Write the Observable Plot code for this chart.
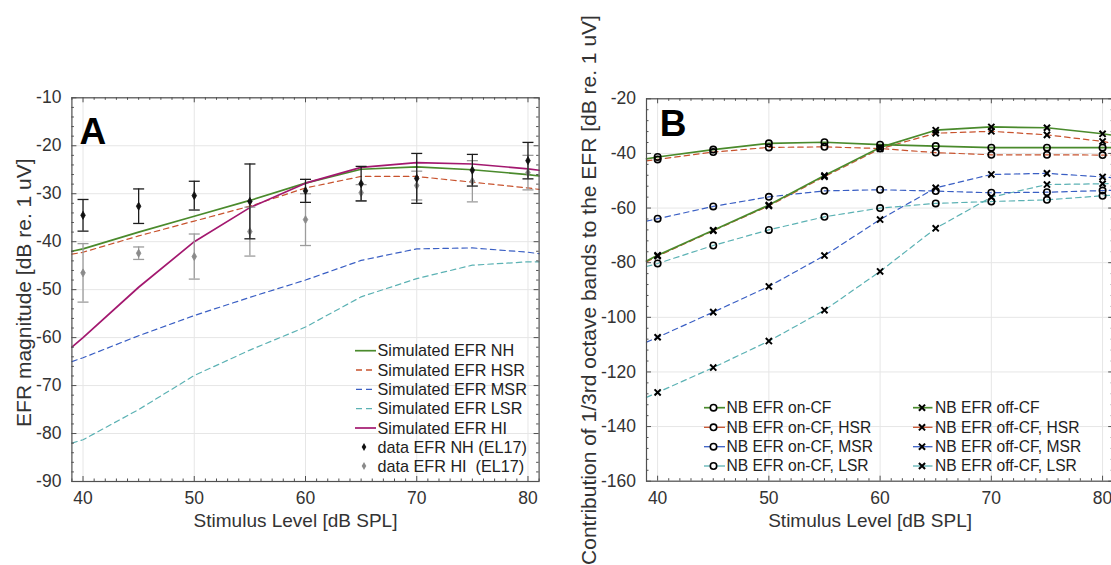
<!DOCTYPE html>
<html><head><meta charset="utf-8">
<script src="https://cdn.jsdelivr.net/npm/d3@7"></script>
<script src="https://cdn.jsdelivr.net/npm/@observablehq/plot@0.6"></script>
<style>
body{margin:0;background:#fff;}
#wrap{position:relative;width:1111px;height:565px;overflow:hidden;background:#fff;font-family:"Liberation Sans",Arial,Helvetica,sans-serif;}
.panel{position:absolute;top:0;}
#overlay{position:absolute;left:0;top:0;pointer-events:none;}
#overlay text{white-space:pre;}
</style></head><body><div id="wrap"></div>
<script>
// ---------- Data ----------
const levels = [40, 45, 50, 55, 60, 65, 70, 75, 80];            // measured levels (markers)
const lineLevels = [39, 40, 45, 50, 55, 60, 65, 70, 75, 80, 81]; // line vertices incl. frame edges
const xTicks = [40, 50, 60, 70, 80];
const yTicksA = [-90, -80, -70, -60, -50, -40, -30, -20, -10];
const yTicksB = [-160, -140, -120, -100, -80, -60, -40, -20];

// Panel A: simulated EFR magnitudes
const simNH  = [-42.0, -41.5, -38.0, -34.7, -31.4, -27.8, -24.9, -24.4, -25.0, -26.0, -26.3];
const simHSR = [-42.6, -42.2, -38.8, -35.7, -32.6, -28.8, -26.4, -26.4, -27.6, -28.8, -29.1];
const simMSR = [-65.0, -64.2, -59.6, -55.4, -51.6, -48.0, -43.9, -41.5, -41.3, -42.2, -42.5];
const simLSR = [-82.0, -81.3, -75.0, -67.9, -62.6, -57.8, -51.5, -47.7, -44.9, -44.2, -44.2];
const simHI  = [-62.0, -60.0, -49.5, -40.0, -32.9, -27.8, -24.5, -23.5, -23.8, -24.8, -25.1];
// Panel A: measured data (EL17), mean and error half-width
const dataNH = [-34.5, -32.6, -30.4, -31.6, -29.4, -27.9, -26.8, -25.1, -23.1];
const errNH  = [3.3, 3.6, 3.0, 7.8, 2.4, 3.6, 5.2, 3.3, 3.8];
const dataHI = [-46.5, -42.4, -43.1, -37.9, -35.4, -29.8, -28.3, -27.4, -25.6];
const errHI  = [6.1, 1.3, 4.7, 5.1, 5.4, 1.7, 3.0, 4.3, 3.6];

// Panel B: narrow-band contributions
const onCF     = [-42.0, -41.3, -38.6, -36.3, -35.9, -36.8, -37.3, -37.9, -37.9, -37.9, -37.9];
const onHSR    = [-42.7, -42.2, -39.5, -37.8, -37.6, -38.2, -39.7, -40.5, -40.5, -40.6, -40.6];
const onMSR    = [-64.8, -63.9, -59.4, -55.9, -53.7, -53.3, -53.8, -54.4, -54.2, -53.6, -53.5];
const onLSR    = [-81.4, -80.3, -73.7, -68.0, -63.2, -60.0, -58.3, -57.6, -57.0, -55.5, -55.3];
const offCF    = [-79.4, -77.3, -68.1, -58.9, -48.1, -37.8, -31.5, -30.3, -30.6, -32.8, -33.4];
const offHSR   = [-79.7, -77.6, -68.3, -59.2, -48.5, -38.3, -32.6, -31.9, -33.2, -35.6, -36.3];
const offMSR   = [-109.1, -107.3, -98.1, -88.7, -77.4, -64.2, -52.6, -47.7, -47.3, -48.6, -48.9];
const offLSR   = [-129.3, -127.5, -118.4, -108.7, -97.4, -83.2, -67.4, -56.0, -51.4, -51.1, -51.0];

const labelsA = ["Simulated EFR NH", "Simulated EFR HSR", "Simulated EFR MSR", "Simulated EFR LSR", "Simulated EFR HI", "data EFR NH (EL17)", "data EFR HI  (EL17)"];
const labelsBon = ["NB EFR on-CF", "NB EFR on-CF, HSR", "NB EFR on-CF, MSR", "NB EFR on-CF, LSR"];
const labelsBoff = ["NB EFR off-CF", "NB EFR off-CF, HSR", "NB EFR off-CF, MSR", "NB EFR off-CF, LSR"];

// ---------- Styles ----------
const C = {nh: "#4a8a2c", hsr: "#c8532e", msr: "#3a5fc4", lsr: "#5cb2b4", hi: "#a3186f"};
const DASH = "5.5,4";
const FRAME = "#505050", GRID = "#e6e6e6", TXT = "#333";
const FONT = "'Liberation Sans', Arial, Helvetica, sans-serif";

const capSymbol = {draw(ctx, size) { const r = Math.sqrt(size / Math.PI); ctx.moveTo(-r, 0); ctx.lineTo(r, 0); }};

function tidy(values) { return lineLevels.map((x, i) => ({x, y: values[i]})); }
function pts(values) { return lineLevels.map((x, i) => ({x, y: values[i]})).filter(d => d.x >= 40 && d.x <= 80); }

function frameMarks(W, H, yMajor, yMinor, xMinor) {
  const M = 5, m = 2.5, s = {stroke: FRAME, strokeWidth: 1};
  return [
    Plot.ruleX(xTicks, {x: d => d, insetTop: H - M, ...s}),
    Plot.ruleX(xTicks, {x: d => d, insetBottom: H - M, ...s}),
    Plot.ruleX(xMinor, {x: d => d, insetTop: H - m, ...s}),
    Plot.ruleX(xMinor, {x: d => d, insetBottom: H - m, ...s}),
    Plot.ruleY(yMajor, {y: d => d, insetRight: W - M, ...s}),
    Plot.ruleY(yMajor, {y: d => d, insetLeft: W - M, ...s}),
    Plot.ruleY(yMinor, {y: d => d, insetRight: W - m, ...s}),
    Plot.ruleY(yMinor, {y: d => d, insetLeft: W - m, ...s}),
    Plot.frame({stroke: FRAME, strokeWidth: 1.2})
  ];
}

const xMinor = d3.range(39, 82, 1).filter(v => v % 10 !== 0);

// ---------- Panel A ----------
{
  const width = 555, height = 565, mL = 71.4, mR = 16.4, mT = 97.3, mB = 84;
  const W = width - mL - mR, H = height - mT - mB;
  const yMinor = d3.range(-90, -9, 2).filter(v => v % 10 !== 0);
  const sims = [
    {v: simLSR, c: C.lsr, d: DASH, w: 1.2},
    {v: simMSR, c: C.msr, d: DASH, w: 1.2},
    {v: simHSR, c: C.hsr, d: DASH, w: 1.2},
    {v: simNH, c: C.nh, d: null, w: 1.7},
    {v: simHI, c: C.hi, d: null, w: 1.7}
  ];
  const nh = levels.map((x, i) => ({x, y: dataNH[i], lo: dataNH[i] - errNH[i], hi: dataNH[i] + errNH[i]}));
  const hi = levels.map((x, i) => ({x, y: dataHI[i], lo: dataHI[i] - errHI[i], hi: dataHI[i] + errHI[i]}));
  const err = (data, col, mcol) => [
    Plot.ruleX(data, {x: "x", y1: "lo", y2: "hi", stroke: col, strokeWidth: 1.3}),
    Plot.dot(data, {x: "x", y: "lo", symbol: capSymbol, r: 5.5, stroke: col, fill: "none", strokeWidth: 1.3}),
    Plot.dot(data, {x: "x", y: "hi", symbol: capSymbol, r: 5.5, stroke: col, fill: "none", strokeWidth: 1.3}),
    Plot.dot(data, {x: "x", y: "y", symbol: "diamond", r: 2.4, fill: mcol, stroke: mcol, strokeWidth: 0.8})
  ];
  const svg = Plot.plot({
    width, height, marginLeft: mL, marginRight: mR, marginTop: mT, marginBottom: mB,
    style: {fontFamily: FONT, color: TXT, background: "transparent", overflow: "visible"},
    x: {domain: [39, 81], axis: null},
    y: {domain: [-90, -10], axis: null},
    marks: [
      Plot.gridX(xTicks, {stroke: GRID, strokeOpacity: 1, strokeWidth: 1}),
      Plot.gridY(yTicksA, {stroke: GRID, strokeOpacity: 1, strokeWidth: 1}),
      ...sims.map(s => Plot.line(tidy(s.v), {x: "x", y: "y", stroke: s.c, strokeWidth: s.w, strokeDasharray: s.d})),
      ...err(hi, "#9c9c9c", "#8a8a8a"),
      ...err(nh, "#1c1c1c", "#111"),
      ...frameMarks(W, H, yTicksA, yMinor, xMinor),
      Plot.axisX({ticks: xTicks, tickSize: 0, tickPadding: 10, fontSize: 17.5, label: null, fill: TXT, tickFormat: d => String(d)}),
      Plot.axisY({ticks: yTicksA, tickSize: 0, tickPadding: 10.5, fontSize: 17.5, label: null, fill: TXT, tickFormat: d => String(d)}),
      Plot.text(["Stimulus Level [dB SPL]"], {frameAnchor: "bottom", dx: -10, dy: 39, textAnchor: "middle", lineAnchor: "middle", fontSize: 19, fill: TXT}),
      Plot.text(["EFR magnitude [dB re. 1 uV]"], {frameAnchor: "left", dx: -47.7, dy: 3, rotate: -90, textAnchor: "middle", lineAnchor: "middle", fontSize: 21, fill: TXT}),
      Plot.text(["A"], {frameAnchor: "top-left", dx: 7.6, dy: 19.5, textAnchor: "start", lineAnchor: "top", fontSize: 37, fontWeight: "bold", fill: "#000"})
    ]
  });
  svg.classList.add("panel");
  svg.style.left = "0px";
  document.getElementById("wrap").appendChild(svg);
}

// ---------- Panel B ----------
{
  const width = 565, height = 565, mL = 91, mR = 6.8, mT = 98.3, mB = 84.3;
  const W = width - mL - mR, H = height - mT - mB;
  const yMinor = d3.range(-160, -19, 4).filter(v => v % 20 !== 0);
  const sers = [
    {v: onLSR, c: C.lsr, d: DASH, w: 1.2, sym: "circle"},
    {v: offLSR, c: C.lsr, d: DASH, w: 1.2, sym: "times"},
    {v: onMSR, c: C.msr, d: DASH, w: 1.2, sym: "circle"},
    {v: offMSR, c: C.msr, d: DASH, w: 1.2, sym: "times"},
    {v: onHSR, c: C.hsr, d: DASH, w: 1.2, sym: "circle"},
    {v: offHSR, c: C.hsr, d: DASH, w: 1.2, sym: "times"},
    {v: onCF, c: C.nh, d: null, w: 1.7, sym: "circle"},
    {v: offCF, c: C.nh, d: null, w: 1.7, sym: "times"}
  ];
  const svg = Plot.plot({
    width, height, marginLeft: mL, marginRight: mR, marginTop: mT, marginBottom: mB,
    style: {fontFamily: FONT, color: TXT, background: "transparent", overflow: "visible"},
    x: {domain: [39, 81], axis: null},
    y: {domain: [-160, -20], axis: null},
    marks: [
      Plot.gridX(xTicks, {stroke: GRID, strokeOpacity: 1, strokeWidth: 1}),
      Plot.gridY(yTicksB, {stroke: GRID, strokeOpacity: 1, strokeWidth: 1}),
      ...sers.map(s => Plot.line(tidy(s.v), {x: "x", y: "y", stroke: s.c, strokeWidth: s.w, strokeDasharray: s.d})),
      ...sers.map(s => s.sym === "circle"
        ? Plot.dot(pts(s.v), {x: "x", y: "y", r: 3.2, stroke: "#000", fill: "none", strokeWidth: 1.6})
        : Plot.dot(pts(s.v), {x: "x", y: "y", symbol: "times", r: 2.9, stroke: "#000", strokeWidth: 2})),
      ...frameMarks(W, H, yTicksB, yMinor, xMinor),
      Plot.axisX({ticks: xTicks, tickSize: 0, tickPadding: 10, fontSize: 17.5, label: null, fill: TXT, tickFormat: d => String(d)}),
      Plot.axisY({ticks: yTicksB, tickSize: 0, tickPadding: 10.5, fontSize: 17.5, label: null, fill: TXT, tickFormat: d => String(d)}),
      Plot.text(["Stimulus Level [dB SPL]"], {frameAnchor: "bottom", dx: -10, dy: 39.3, textAnchor: "middle", lineAnchor: "middle", fontSize: 19, fill: TXT}),
      Plot.text(["Contribution of 1/3rd octave bands to the EFR [dB re. 1 uV]"], {frameAnchor: "left", dx: -57.7, dy: 0, rotate: -90, textAnchor: "middle", lineAnchor: "middle", fontSize: 21, fill: TXT}),
      Plot.text(["B"], {frameAnchor: "top-left", dx: 13.3, dy: 10.7, textAnchor: "start", lineAnchor: "top", fontSize: 37, fontWeight: "bold", fill: "#000"})
    ]
  });
  svg.classList.add("panel");
  svg.style.left = "555px";
  document.getElementById("wrap").appendChild(svg);
}

// ---------- Legends (overlay) ----------
{
  const ov = d3.select("#wrap").append("svg").attr("id", "overlay").attr("width", 1111).attr("height", 565)
    .style("font-family", FONT);
  // Legend A
  const rowsA = [350.7, 370, 389.3, 408.7, 428, 447, 466];
  const styA = [
    {c: C.nh, d: null, w: 1.7}, {c: C.hsr, d: "6,4", w: 1.3}, {c: C.msr, d: "6,4", w: 1.3},
    {c: C.lsr, d: "6,4", w: 1.3}, {c: C.hi, d: null, w: 1.7}, {m: "#111"}, {m: "#8a8a8a"}
  ];
  labelsA.forEach((t, i) => {
    const y = rowsA[i], s = styA[i];
    if (s.m) {
      ov.append("path").attr("d", d3.symbol(d3.symbolDiamond, Math.PI * 2.4 * 2.4)())
        .attr("transform", `translate(364,${y})`).attr("fill", s.m);
    } else {
      ov.append("line").attr("x1", s.d ? 356 : 355).attr("x2", s.d ? 372 : 376).attr("y1", y).attr("y2", y)
        .attr("stroke", s.c).attr("stroke-width", s.w).attr("stroke-dasharray", s.d);
    }
    ov.append("text").attr("x", 377.5).attr("y", y).attr("dy", "0.35em").attr("font-size", 16.2)
      .attr("fill", "#222").text(t);
  });
  // Legend B
  const rowsB = [407.7, 427.3, 446.7, 466];
  const colsB = [C.nh, C.hsr, C.msr, C.lsr];
  const drawEntry = (x0, x1, xm, xt, y, col, dashed, sym, t) => {
    ov.append("line").attr("x1", x0).attr("x2", x1).attr("y1", y).attr("y2", y)
      .attr("stroke", col).attr("stroke-width", dashed ? 1.3 : 1.7);
    if (sym === "circle") {
      ov.append("circle").attr("cx", xm).attr("cy", y).attr("r", 3.2).attr("fill", "#fff")
        .attr("stroke", "#000").attr("stroke-width", 1.6);
    } else {
      ov.append("path").attr("d", d3.symbol(d3.symbolTimes, Math.PI * 2.9 * 2.9)())
        .attr("transform", `translate(${xm},${y})`).attr("fill", "none").attr("stroke", "#000").attr("stroke-width", 2);
    }
    ov.append("text").attr("x", xt).attr("y", y).attr("dy", "0.35em").attr("font-size", 15.6)
      .attr("fill", "#222").text(t);
  };
  labelsBon.forEach((t, i) => drawEntry(704, 725, 713.5, 726.5, rowsB[i], colsB[i], i > 0, "circle", t));
  labelsBoff.forEach((t, i) => drawEntry(913, 932.5, 922, 935, rowsB[i], colsB[i], i > 0, "times", t));
}
</script>
</body></html>
